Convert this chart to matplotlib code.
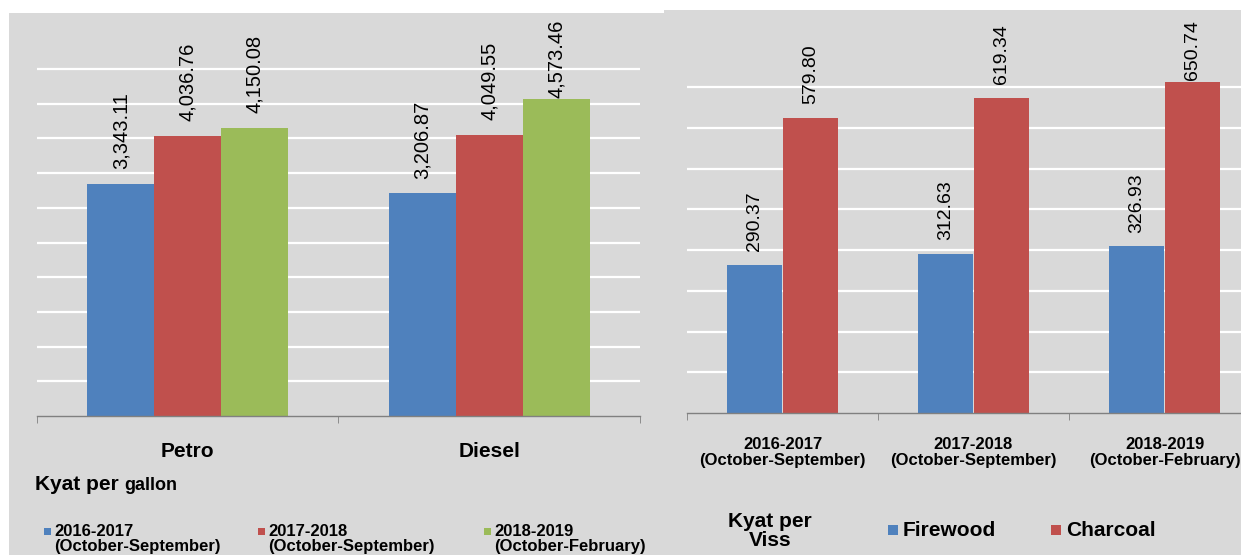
import matplotlib.pyplot as plt
from matplotlib.patches import Rectangle

plt.rcParams['font.family'] = ['Liberation Sans', 'DejaVu Sans']

# fuel prices, kyat per gallon
fuels = ['Petro', 'Diesel']
fuel_periods = ['2016-2017\n(October-September)', '2017-2018\n(October-September)',
                '2018-2019\n(October-February)']
fuel_2016 = [3343.11, 3206.87]
fuel_2017 = [4036.76, 4049.55]
fuel_2018 = [4150.08, 4573.46]

# firewood / charcoal, kyat per viss
wood_periods = ['2016-2017\n(October-September)', '2017-2018\n(October-September)',
                '2018-2019\n(October-February)']
firewood = [290.37, 312.63, 326.93]
charcoal = [579.80, 619.34, 650.74]

blue = '#4f81bd'
red = '#c0504d'
green = '#9bbb59'
bg = '#d9d9d9'

W, H = 1241, 555
fig = plt.figure(figsize=(W / 100, H / 100), dpi=100)
fig.patch.set_facecolor('white')

def fx(px):
    return px / W

def fy(py):
    return 1 - py / H

# gray panels
fig.add_artist(Rectangle((fx(9), 0), fx(664 - 9), fy(13), transform=fig.transFigure,
                         facecolor=bg, edgecolor='none', zorder=0))
fig.add_artist(Rectangle((fx(664), 0), fx(W - 664), fy(10), transform=fig.transFigure,
                         facecolor=bg, edgecolor='none', zorder=0))


def style_axis(ax, n):
    ax.set_facecolor('none')
    for s in ['top', 'left', 'right']:
        ax.spines[s].set_visible(False)
    ax.spines['bottom'].set_color('#808080')
    ax.spines['bottom'].set_linewidth(1.0)
    ax.set_xlim(-0.5, n - 0.5)
    ax.set_xticks(range(n))
    ax.tick_params(axis='x', which='major', length=0)
    ax.set_xticks([i - 0.5 for i in range(n + 1)], minor=True)
    ax.tick_params(axis='x', which='minor', length=5, color='#808080', direction='out')
    ax.tick_params(axis='y', length=0, labelleft=False)
    ax.grid(axis='y', color='white', linewidth=1.6)
    ax.set_axisbelow(True)


labels = []

# ---- left chart ----
base_l, top_l = 416, 69
ax1 = fig.add_axes([fx(37), fy(base_l), fx(640 - 37), (base_l - 14) / H])
ymax1 = 5000 * (base_l - 14) / (base_l - top_l)
ax1.set_ylim(0, ymax1)
ax1.set_yticks(range(500, 5001, 500))
style_axis(ax1, len(fuels))
ax1.set_xticklabels(fuels, fontsize=15, fontweight='bold')
ax1.tick_params(axis='x', which='major', pad=19)

bw = 0.222
x = range(len(fuels))
for k, (vals, col) in enumerate([(fuel_2016, blue), (fuel_2017, red), (fuel_2018, green)]):
    pos = [i + (k - 1) * bw for i in x]
    ax1.bar(pos, vals, width=bw, color=col, zorder=2)
    for p, v in zip(pos, vals):
        labels.append(ax1.annotate(f'{v:,.2f}', (p, v), xytext=(0, 10.5),
                                   textcoords='offset points', rotation=90,
                                   ha='center', va='bottom', fontsize=14.5,
                                   annotation_clip=False))

# ---- right chart ----
base_r, top_r = 413, 87
ax2 = fig.add_axes([fx(687), fy(base_r), fx(191 * 3), (base_r - 10) / H])
ymax2 = 640 * (base_r - 10) / (base_r - top_r)
ax2.set_ylim(0, ymax2)
ax2.set_yticks(range(80, 641, 80))
style_axis(ax2, len(wood_periods))
ax2.set_xticklabels(wood_periods, fontsize=12, fontweight='bold', linespacing=1.1)
ax2.tick_params(axis='x', which='major', pad=17)

bw2 = 0.283
x2 = range(len(wood_periods))
for k, (vals, col) in enumerate([(firewood, blue), (charcoal, red)]):
    pos = [i + (k - 0.5) * (bw2 + 0.01) for i in x2]
    ax2.bar(pos, vals, width=bw2, color=col, zorder=2)
    for p, v in zip(pos, vals):
        labels.append(ax2.annotate(f'{v:.2f}', (p, v), xytext=(0, 10),
                                   textcoords='offset points', rotation=90,
                                   ha='center', va='bottom', fontsize=14,
                                   annotation_clip=False))

# labels that would run off the chart area get pushed down onto the bar
fig.canvas.draw()
limit = H - 20
for ann in labels:
    bb = ann.get_window_extent()
    if bb.y1 > limit:
        dx, dy = ann.xyann
        ann.xyann = (dx, dy - (bb.y1 - limit) * 72 / fig.dpi)

# ---- unit captions and legends ----
fig.text(fx(35), fy(485), 'Kyat per ', fontsize=15, fontweight='bold', va='center')
fig.text(fx(124), fy(486), 'gallon', fontsize=13, fontweight='bold', va='center')

leg_x = [44, 258, 484]
for lx, lab, col in zip(leg_x, fuel_periods, [blue, red, green]):
    fig.add_artist(Rectangle((fx(lx), fy(531) - 3.5 / H), fx(7), 7 / H,
                             transform=fig.transFigure, facecolor=col, edgecolor='none'))
    first, second = lab.split('\n')
    fig.text(fx(lx + 10), fy(531), first, fontsize=12, fontweight='bold', va='center')
    fig.text(fx(lx + 10), fy(546), second, fontsize=12, fontweight='bold', va='center')

fig.text(fx(770), fy(531), 'Kyat per\nViss', fontsize=15, fontweight='bold',
         ha='center', va='center', linespacing=1.05)
for lx, lab, col in zip([888, 1051], ['Firewood', 'Charcoal'], [blue, red]):
    fig.add_artist(Rectangle((fx(lx), fy(530) - 5 / H), fx(10), 10 / H,
                             transform=fig.transFigure, facecolor=col, edgecolor='none'))
    fig.text(fx(lx + 15), fy(530), lab, fontsize=15, fontweight='bold', va='center')

fig.savefig('out.png', dpi=100)
